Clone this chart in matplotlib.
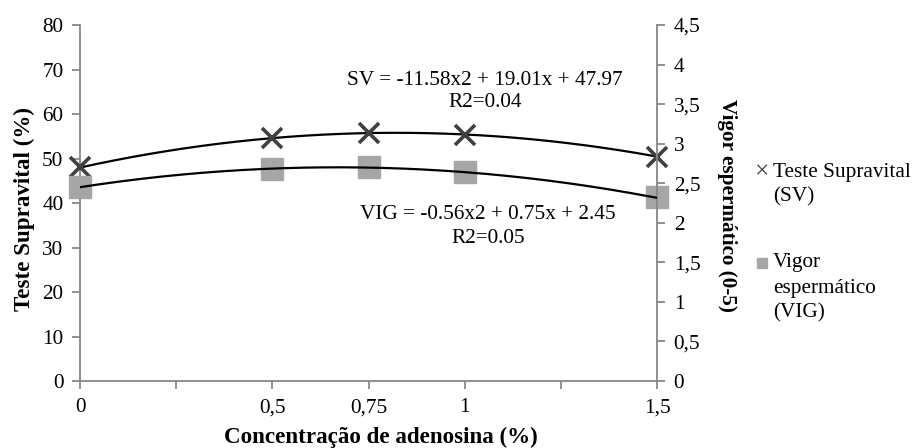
import numpy as np
import matplotlib
matplotlib.use("Agg")
from matplotlib import pyplot as plt

# adenosine concentration (%)
conc = [0, 0.5, 0.75, 1, 1.5]
# supravital test (%) - left axis
sv = [48.1, 54.6, 55.7, 55.3, 50.3]
# sperm vigor (0-5) - right axis
vig = [2.45, 2.68, 2.71, 2.64, 2.33]

# quadratic trendline coefficients shown on the chart
sv_coef = [-11.58, 19.01, 47.97]
vig_coef = [-0.56, 0.75, 2.45]

x_ticks = [0, 0.25, 0.5, 0.75, 1, 1.25, 1.5]
x_labels = ["0", "", "0,5", "0,75", "1", "", "1,5"]
y1_ticks = [0, 10, 20, 30, 40, 50, 60, 70, 80]
y2_ticks = [0, 0.5, 1, 1.5, 2, 2.5, 3, 3.5, 4, 4.5]
y2_labels = ["0", "0,5", "1", "1,5", "2", "2,5", "3", "3,5", "4", "4,5"]

plt.rcParams['font.family'] = ['Liberation Serif', 'DejaVu Serif']
fs = 15.3
axis_gray = "#878787"

fig = plt.figure(figsize=(9.13, 4.48), dpi=100)
ax = fig.add_axes([80 / 913, (448 - 381) / 448, (657 - 80) / 913, (381 - 25) / 448])
ax2 = ax.twinx()

xx = np.linspace(0, 1.5, 200)
ax.plot(xx, np.polyval(sv_coef, xx), color="black", lw=1.6, zorder=3)
ax2.plot(xx, np.polyval(vig_coef, xx), color="black", lw=1.6, zorder=3)

ax.plot(conc, sv, linestyle="none", marker="x", markersize=14, mew=2.6,
        color="#404040", zorder=4, clip_on=False)
ax2.plot(conc, vig, linestyle="none", marker="s", markersize=15.5,
         color="#a6a6a6", mec="#a6a6a6", zorder=2, clip_on=False)

ax.set_xlim(0, 1.5)
ax.set_ylim(0, 80)
ax2.set_ylim(0, 4.5)
ax.set_xticks(x_ticks)
ax.set_xticklabels(x_labels)
ax.set_yticks(y1_ticks)
ax2.set_yticks(y2_ticks)
ax2.set_yticklabels(y2_labels)

for a in (ax, ax2):
    a.spines['top'].set_visible(False)
    for s in ('left', 'right', 'bottom'):
        a.spines[s].set_color(axis_gray)
        a.spines[s].set_linewidth(1.3)
    a.tick_params(colors=axis_gray, labelcolor="black", labelsize=fs,
                  length=6, width=1.3, direction="out")
ax.spines['right'].set_visible(False)
ax2.spines['left'].set_visible(False)
ax2.spines['bottom'].set_visible(False)
ax.tick_params(axis='x', pad=6.5)
ax.tick_params(axis='y', pad=6)
ax2.tick_params(axis='y', pad=6)

xl = ax.set_xlabel("Concentração de adenosina (%)", fontsize=16.6, fontweight="bold")
ax.xaxis.set_label_coords((381 - 80) / 577, (381 - 437) / 356)
xl.set_va("center")
yl = ax.set_ylabel("Teste Supravital (%)", fontsize=16.6, fontweight="bold")
ax.yaxis.set_label_coords((24 - 80) / 577, (381 - 209) / 356)
yl.set_va("center")
yl2 = ax2.set_ylabel("Vigor espermático (0-5)", fontsize=fs, fontweight="bold", rotation=270)
ax2.yaxis.set_label_coords((727 - 80) / 577, (381 - 205) / 356)
yl2.set_va("center")

# trendline equations
ax.text(1.052, 67.6, "SV = -11.58x2 + 19.01x + 47.97", ha="center", va="center", fontsize=fs)
ax.text(1.052, 62.5, "R2=0.04", ha="center", va="center", fontsize=fs)
ax.text(1.06, 37.5, "VIG = -0.56x2 + 0.75x + 2.45", ha="center", va="center", fontsize=fs)
ax.text(1.06, 32.1, "R2=0.05", ha="center", va="center", fontsize=fs)

# legend
def fy(p):
    return 1 - p / 448

fig.text(762 / 913, fy(172), "×", color="#404040", fontsize=fs + 3,
         ha="center", va="center")
fig.text(773 / 913, fy(172), "Teste Supravital", fontsize=fs, ha="left", va="center")
fig.text(773 / 913, fy(197), "(SV)", fontsize=fs, ha="left", va="center")
fig.patches.append(plt.Rectangle((757 / 913, fy(268)), 10 / 913, 10 / 448,
                                 transform=fig.transFigure, color="#a6a6a6"))
fig.text(773 / 913, fy(263), "Vigor", fontsize=fs, ha="left", va="center")
fig.text(773 / 913, fy(288), "espermático", fontsize=fs, ha="left", va="center")
fig.text(773 / 913, fy(313), "(VIG)", fontsize=fs, ha="left", va="center")

fig.savefig("out.png", dpi=100)
